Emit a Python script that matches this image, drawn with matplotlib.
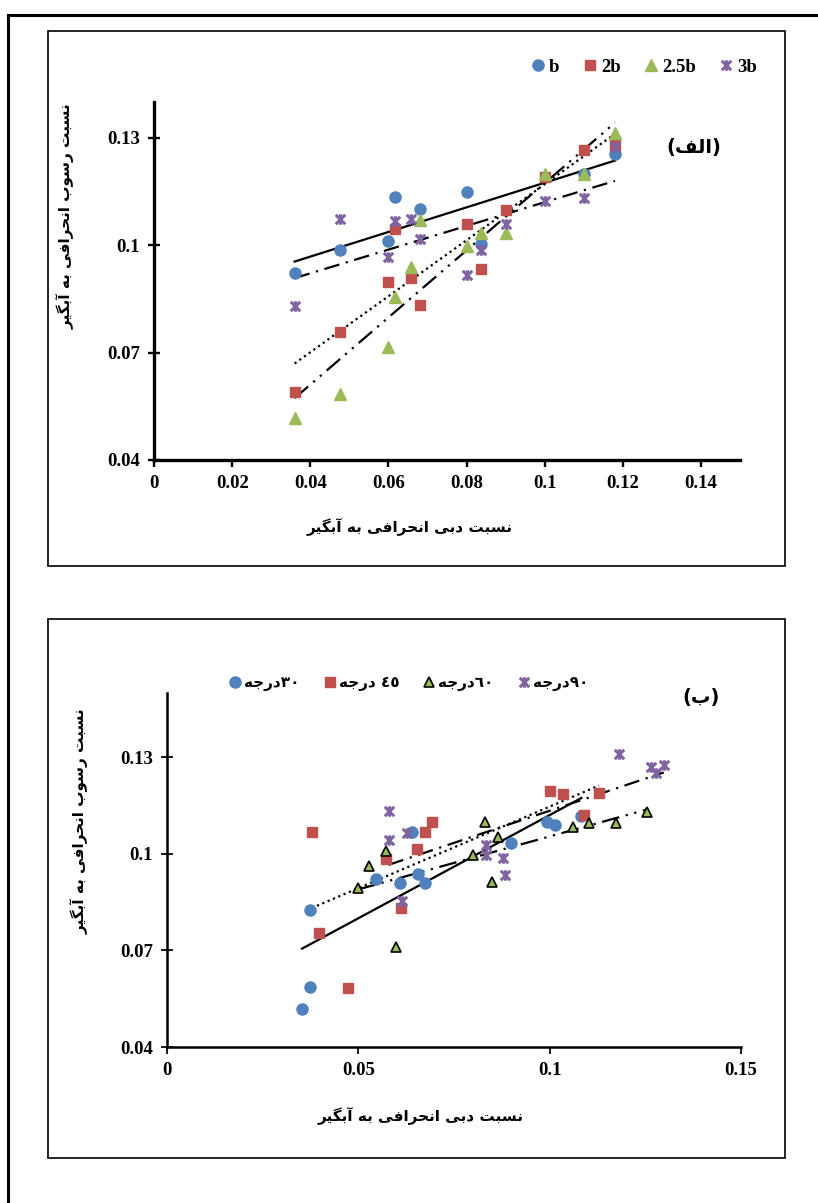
import numpy as np
import matplotlib
matplotlib.use('Agg')
import matplotlib.pyplot as plt
from matplotlib.path import Path
from matplotlib.lines import Line2D
from matplotlib.patches import Rectangle
from matplotlib.font_manager import FontProperties

# ---------------- data (top panel) ----------------
x_b = [0.036, 0.0476, 0.060, 0.0618, 0.068, 0.080, 0.0836, 0.110, 0.118]
y_b = [0.0922, 0.0987, 0.1013, 0.1136, 0.110, 0.1148, 0.1002, 0.120, 0.1254]
x_2b = [0.036, 0.0476, 0.060, 0.0618, 0.0659, 0.068, 0.080, 0.0836, 0.090, 0.100, 0.110, 0.118]
y_2b = [0.0591, 0.0757, 0.0898, 0.1044, 0.0909, 0.0834, 0.1058, 0.0934, 0.1098, 0.1191, 0.1265, 0.1281]
x_25b = [0.036, 0.0476, 0.060, 0.0618, 0.0659, 0.068, 0.080, 0.0836, 0.090, 0.100, 0.110, 0.118]
y_25b = [0.0518, 0.0584, 0.0716, 0.0855, 0.0938, 0.107, 0.0998, 0.1033, 0.1035, 0.120, 0.120, 0.1314]
x_3b = [0.036, 0.0476, 0.060, 0.0618, 0.0659, 0.068, 0.080, 0.0836, 0.090, 0.100, 0.110, 0.118]
y_3b = [0.0829, 0.1072, 0.0968, 0.1068, 0.1072, 0.1017, 0.0916, 0.0986, 0.1058, 0.1123, 0.1133, 0.1275]
top_labels = ['b', '2b', '2.5b', '3b']
top_xticks = [0, 0.02, 0.04, 0.06, 0.08, 0.10, 0.12, 0.14]
top_xticklabels = ['0', '0.02', '0.04', '0.06', '0.08', '0.1', '0.12', '0.14']

# ---------------- data (bottom panel) ----------------
x_30 = [0.0353, 0.0373, 0.0373, 0.0546, 0.061, 0.064, 0.0655, 0.0674, 0.0898, 0.0993, 0.1013, 0.1083]
y_30 = [0.0517, 0.0587, 0.0826, 0.0921, 0.0910, 0.1069, 0.0938, 0.0910, 0.1034, 0.1099, 0.1090, 0.1117]
x_45 = [0.0378, 0.0398, 0.0472, 0.0571, 0.0612, 0.0654, 0.0675, 0.0692, 0.100, 0.1035, 0.1091, 0.1129]
y_45 = [0.1069, 0.0754, 0.0582, 0.0984, 0.0831, 0.1016, 0.1069, 0.1098, 0.1197, 0.1185, 0.1122, 0.1188]
x_60 = [0.0499, 0.0528, 0.0571, 0.0598, 0.080, 0.083, 0.085, 0.0865, 0.1061, 0.1104, 0.1174, 0.1255]
y_60 = [0.0893, 0.0961, 0.1008, 0.0710, 0.0996, 0.1098, 0.0912, 0.1053, 0.1083, 0.1097, 0.1097, 0.1130]
x_90 = [0.0579, 0.0579, 0.0615, 0.0628, 0.0833, 0.0833, 0.0878, 0.0884, 0.118, 0.1266, 0.1279, 0.1298]
y_90 = [0.1133, 0.1042, 0.0854, 0.1066, 0.1029, 0.0998, 0.0986, 0.0933, 0.1312, 0.1271, 0.1252, 0.1275]
bot_xticks = [0, 0.05, 0.10, 0.15]
bot_xticklabels = ['0', '0.05', '0.1', '0.15']
yticks = [0.04, 0.07, 0.10, 0.13]
yticklabels = ['0.04', '0.07', '0.1', '0.13']

YLAB = 'نسبت رسوب انحرافی به آبگیر'
XLAB = 'نسبت دبی انحرافی به آبگیر'
PANEL_A = 'الف'
PANEL_B = 'ب'
DEG = 'درجه'
bot_nums = ['\u0663\u0660', '\u0664\u0665', '\u0666\u0660', '\u0669\u0660']
bot_space = ['', ' ', '', '']

# ---------------- simple Arabic shaping ----------------
FORMS = {
    '\u0627': ('\uFE8D', '\uFE8E', None, None),
    '\u0622': ('\uFE81', '\uFE82', None, None),
    '\u0628': ('\uFE8F', '\uFE90', '\uFE91', '\uFE92'),
    '\u062A': ('\uFE95', '\uFE96', '\uFE97', '\uFE98'),
    '\u062C': ('\uFE9D', '\uFE9E', '\uFE9F', '\uFEA0'),
    '\u062D': ('\uFEA1', '\uFEA2', '\uFEA3', '\uFEA4'),
    '\u062F': ('\uFEA9', '\uFEAA', None, None),
    '\u0631': ('\uFEAD', '\uFEAE', None, None),
    '\u0633': ('\uFEB1', '\uFEB2', '\uFEB3', '\uFEB4'),
    '\u0641': ('\uFED1', '\uFED2', '\uFED3', '\uFED4'),
    '\u0644': ('\uFEDD', '\uFEDE', '\uFEDF', '\uFEE0'),
    '\u0646': ('\uFEE5', '\uFEE6', '\uFEE7', '\uFEE8'),
    '\u0647': ('\uFEE9', '\uFEEA', '\uFEEB', '\uFEEC'),
    '\u0648': ('\uFEED', '\uFEEE', None, None),
    '\u06CC': ('\uFEEF', '\uFEF0', '\uFEF3', '\uFEF4'),
    '\u06AF': ('\uFB92', '\uFB93', '\uFB94', '\uFB95'),
}


def shape(s):
    s = s.replace('\u064A', '\u06CC').replace('\u0649', '\u06CC')
    out = []
    for i, c in enumerate(s):
        if c not in FORMS:
            out.append(c)
            continue
        f = FORMS[c]
        prev = s[i - 1] if i > 0 else None
        nxt = s[i + 1] if i + 1 < len(s) else None
        jp = (prev in FORMS) and FORMS[prev][2] is not None
        jn = f[2] is not None and (nxt in FORMS)
        if jp and jn:
            out.append(f[3])
        elif jp:
            out.append(f[1])
        elif jn:
            out.append(f[2])
        else:
            out.append(f[0])
    return ''.join(reversed(out))


# ---------------- styles ----------------
C_BLUE = '#4F81BD'
C_RED = '#C0504D'
C_GREEN = '#9BBB59'
C_PURPLE = '#8064A2'
star = Path([(-1, -1), (1, 1), (-1, 1), (1, -1), (0, -1.1), (0, 1.1)],
            [Path.MOVETO, Path.LINETO, Path.MOVETO, Path.LINETO, Path.MOVETO, Path.LINETO])
LS_SOLID = '-'
LS_DOT = (0, (1, 1.6))
LS_DASHDOT = (0, (7, 3, 1, 3))
LS_DASHDOTDOT = (0, (8, 3, 1, 3, 1, 3))

serif_b = FontProperties(family=['Liberation Serif', 'DejaVu Serif'], weight='bold', size=13.5)
arab_b = FontProperties(family=['DejaVu Sans'], weight='bold', size=11)

W, H = 818, 1203
fig = plt.figure(figsize=(W / 100, H / 100), dpi=100)


def fx(px):
    return px / W


def fy(py):
    return 1 - py / H


# page border
fig.add_artist(Line2D([fx(8), fx(818)], [fy(15), fy(15)], color='black', lw=2.2))
fig.add_artist(Line2D([fx(8), fx(8)], [fy(15), fy(1203)], color='black', lw=2.2))
# chart boxes
for (x0, y0, x1, y1) in [(48, 31, 785, 566), (48, 619, 785, 1158)]:
    fig.add_artist(Rectangle((fx(x0), fy(y1)), fx(x1) - fx(x0), fy(y0) - fy(y1),
                             fill=False, edgecolor='black', lw=1.2))


def style_axes(ax, xticks, xticklabels, xmax, ymax, spine_lw):
    for s in ['top', 'right']:
        ax.spines[s].set_visible(False)
    for s in ['left', 'bottom']:
        ax.spines[s].set_linewidth(spine_lw)
        ax.spines[s].set_color('black')
    ax.set_xlim(0, xmax)
    ax.set_ylim(0.04, ymax)
    ax.set_xticks(xticks)
    ax.set_xticklabels(xticklabels)
    ax.set_yticks(yticks)
    ax.set_yticklabels(yticklabels)
    ax.tick_params(axis='both', direction='out', length=5, width=spine_lw * 0.7, pad=6)
    ax.tick_params(axis='y', direction='inout', length=8)
    for lab in ax.get_xticklabels() + ax.get_yticklabels():
        lab.set_fontproperties(serif_b)
    ax.set_facecolor('none')


def trend(ax, x, y, ls):
    x = np.asarray(x)
    y = np.asarray(y)
    k, b = np.polyfit(x, y, 1)
    xx = np.array([x.min(), x.max()])
    ax.plot(xx, k * xx + b, color='black', lw=1.6, ls=ls, zorder=3)


# ---------------- top panel ----------------
ax1 = fig.add_axes([fx(154), fy(460), fx(740) - fx(154), fy(102) - fy(460)])
style_axes(ax1, top_xticks, top_xticklabels, 0.15, 0.14, 2.4)
ms = 8
ax1.plot(x_b, y_b, 'o', color=C_BLUE, ms=ms, mec=C_BLUE, label=top_labels[0], zorder=4)
ax1.plot(x_2b, y_2b, 's', color=C_RED, ms=ms - 0.5, mec=C_RED, label=top_labels[1], zorder=4)
ax1.plot(x_25b, y_25b, '^', color=C_GREEN, ms=ms, mec=C_GREEN, label=top_labels[2], zorder=4)
ax1.plot(x_3b, y_3b, ls='none', marker=star, color=C_PURPLE, ms=7.5, mew=2.2, label=top_labels[3], zorder=4)
trend(ax1, x_b, y_b, LS_SOLID)
trend(ax1, x_2b, y_2b, LS_DOT)
trend(ax1, x_25b, y_25b, LS_DASHDOTDOT)
trend(ax1, x_3b, y_3b, LS_DASHDOT)
leg1 = ax1.legend(loc='center', bbox_to_anchor=(fx(644), fy(67)), bbox_transform=fig.transFigure,
                  ncol=4, frameon=False, prop=serif_b, handlelength=0.7, handletextpad=0.25,
                  columnspacing=1.25, borderpad=0, borderaxespad=0)
fig.text(fx(694), fy(147), '(' + shape(PANEL_A) + ')', fontproperties=arab_b, fontsize=14,
         ha='center', va='center')
fig.text(fx(66), fy(216), shape(YLAB), fontproperties=arab_b, rotation=90, ha='center', va='center')
fig.text(fx(410), fy(527), shape(XLAB), fontproperties=arab_b, ha='center', va='center')

# ---------------- bottom panel ----------------
ax2 = fig.add_axes([fx(167), fy(1047), fx(741) - fx(167), fy(693) - fy(1047)])
style_axes(ax2, bot_xticks, bot_xticklabels, 0.15, 0.15, 1.8)
bot_labels = [shape(DEG) + bot_space[i] + bot_nums[i] for i in range(4)]
ax2.plot(x_30, y_30, 'o', color=C_BLUE, ms=ms, mec=C_BLUE, label=bot_labels[0], zorder=4)
ax2.plot(x_45, y_45, 's', color=C_RED, ms=ms - 0.5, mec=C_RED, label=bot_labels[1], zorder=4)
ax2.plot(x_60, y_60, '^', color=C_GREEN, ms=7, mec='black', mew=1.2, label=bot_labels[2], zorder=4)
ax2.plot(x_90, y_90, ls='none', marker=star, color=C_PURPLE, ms=7.5, mew=2.2, label=bot_labels[3], zorder=4)
trend(ax2, x_30, y_30, LS_SOLID)
trend(ax2, x_45, y_45, LS_DOT)
trend(ax2, x_60, y_60, LS_DASHDOTDOT)
trend(ax2, x_90, y_90, LS_DASHDOT)
leg2 = ax2.legend(loc='center', bbox_to_anchor=(fx(409), fy(683)), bbox_transform=fig.transFigure,
                  ncol=4, frameon=False, prop=arab_b, handlelength=0.7, handletextpad=0.25,
                  columnspacing=1.6, borderpad=0, borderaxespad=0)
fig.text(fx(701), fy(697), '(' + shape(PANEL_B) + ')', fontproperties=arab_b, fontsize=14,
         ha='center', va='center')
fig.text(fx(80), fy(821), shape(YLAB), fontproperties=arab_b, rotation=90, ha='center', va='center')
fig.text(fx(421), fy(1116), shape(XLAB), fontproperties=arab_b, ha='center', va='center')

fig.savefig('out.png', dpi=100)
